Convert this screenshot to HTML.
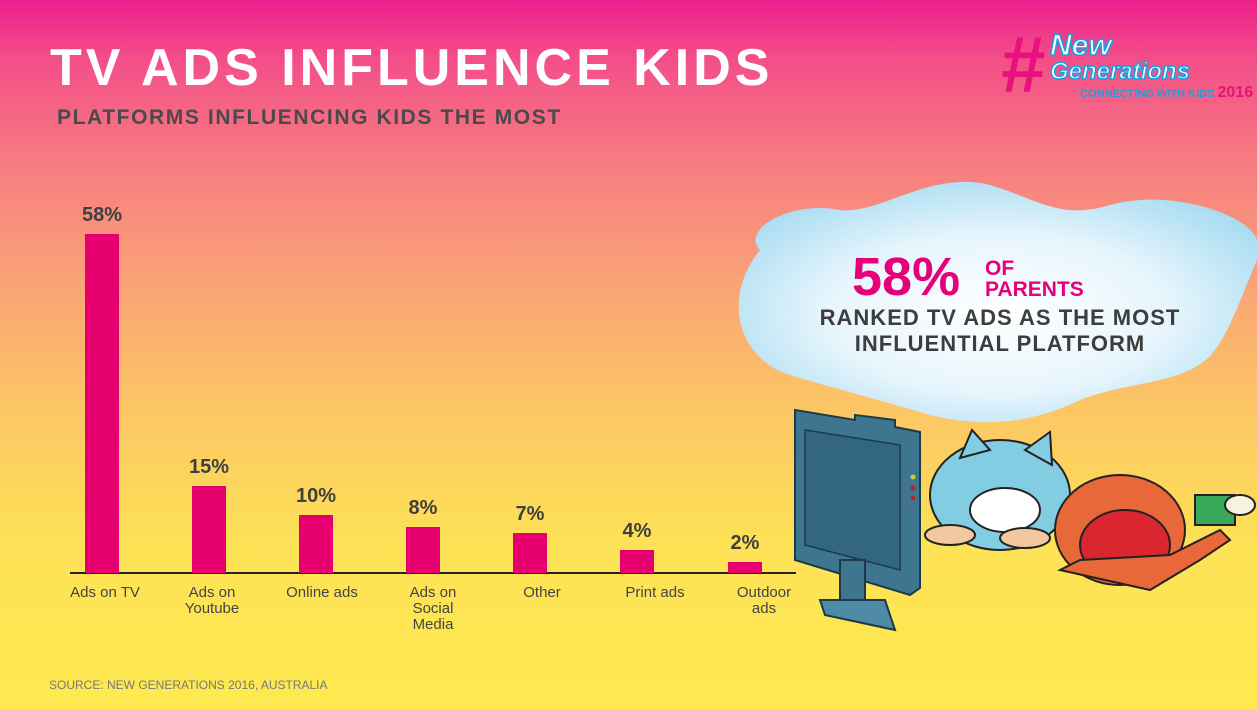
<!DOCTYPE html>
<html><head><meta charset="utf-8"><style>
*{margin:0;padding:0}
body{width:1257px;height:709px;overflow:hidden;position:relative;font-family:"Liberation Sans",sans-serif;
background:linear-gradient(180deg,#ee1f8c 0px,#f34f88 60px,#f77f80 170px,#faa277 280px,#fcc466 400px,#fde156 540px,#feea50 709px);}
.t{position:absolute;white-space:nowrap}
.bar{position:absolute;width:34px;background:#e6006f}
.v{position:absolute;width:80px;text-align:center;font-weight:bold;font-size:20px;color:#3f3f3f}
.l{position:absolute;width:100px;text-align:center;font-size:15px;color:#444;line-height:16px}
</style></head><body>
<div class="t" style="left:50px;top:38px;font-size:52px;font-weight:bold;color:#fff;letter-spacing:4px">TV ADS INFLUENCE KIDS</div>
<div class="t" style="left:57px;top:106px;font-size:21px;font-weight:bold;color:#4a4a4a;letter-spacing:1.6px">PLATFORMS INFLUENCING KIDS THE MOST</div>
<div class="t" style="left:1000px;top:25px;width:235px;height:85px">
<div class="t" style="left:0;top:0;font-size:80px;font-weight:bold;color:#e8117f;line-height:80px;font-style:italic">#</div>
<div class="t" style="left:50px;top:6px;font-size:30px;font-weight:bold;font-style:italic;color:#fff;-webkit-text-stroke:1.5px #1a9fe0;line-height:30px">New</div>
<div class="t" style="left:50px;top:34px;font-size:24px;font-weight:bold;font-style:italic;color:#fff;-webkit-text-stroke:1.5px #1a9fe0;line-height:26px">Generations</div>
<div class="t" style="left:80px;top:62px;font-size:11px;font-weight:bold;color:#1a9fe0;line-height:11px">CONNECTING WITH KIDS <span style="color:#e8117f;font-size:16px">2016</span></div>
</div>
<div style="position:absolute;left:70px;top:572px;width:726px;height:2px;background:#222"></div>
<div class="bar" style="left:85px;top:234px;height:339px"></div>
<div class="bar" style="left:192px;top:486px;height:87px"></div>
<div class="bar" style="left:299px;top:515px;height:58px"></div>
<div class="bar" style="left:406px;top:527px;height:46px"></div>
<div class="bar" style="left:513px;top:533px;height:40px"></div>
<div class="bar" style="left:620px;top:550px;height:23px"></div>
<div class="bar" style="left:728px;top:562px;height:11px"></div>
<div class="v" style="left:62px;top:204px">58%</div>
<div class="v" style="left:169px;top:456px">15%</div>
<div class="v" style="left:276px;top:485px">10%</div>
<div class="v" style="left:383px;top:497px">8%</div>
<div class="v" style="left:490px;top:503px">7%</div>
<div class="v" style="left:597px;top:520px">4%</div>
<div class="v" style="left:705px;top:532px">2%</div>
<div class="l" style="left:55px;top:585px">Ads on TV</div>
<div class="l" style="left:162px;top:585px">Ads on<br>Youtube</div>
<div class="l" style="left:272px;top:585px">Online ads</div>
<div class="l" style="left:383px;top:585px">Ads on<br>Social<br>Media</div>
<div class="l" style="left:492px;top:585px">Other</div>
<div class="l" style="left:605px;top:585px">Print ads</div>
<div class="l" style="left:714px;top:585px">Outdoor<br>ads</div>
<div class="t" style="left:49px;top:678px;font-size:12px;color:#777">SOURCE: NEW GENERATIONS 2016, AUSTRALIA</div>
<svg style="position:absolute;left:0;top:0" width="1257" height="709">
<defs><radialGradient id="c" cx="0.5" cy="0.55" r="0.6"><stop offset="0" stop-color="#fff"/><stop offset="0.55" stop-color="#e6f5fc"/><stop offset="1" stop-color="#a8dcf2"/></radialGradient></defs>
<path d="M760 250 C740 230 790 200 840 210 C880 215 930 170 990 185 C1040 200 1060 220 1110 205 C1170 188 1250 215 1257 240 L1257 260 C1240 300 1230 330 1215 350 C1190 385 1130 380 1080 400 C1040 420 990 430 930 415 C880 400 840 390 790 375 C740 360 720 300 760 250 Z" fill="url(#c)"/>
<g transform="translate(795,410)">
<polygon points="0,0 60,10 60,5 100,10 100,17 125,22 125,178 115,185 0,150" fill="#3e7690" stroke="#1c3a4a" stroke-width="2"/>
<polygon points="10,20 105,35 105,160 10,135" fill="#336780" stroke="#1c3a4a" stroke-width="1.5"/>
<rect x="45" y="150" width="25" height="50" fill="#3e7690" stroke="#1c3a4a" stroke-width="2"/>
<polygon points="25,190 90,190 100,220 30,205" fill="#4f8aa6" stroke="#1c3a4a" stroke-width="2"/>
<circle cx="118" cy="67" r="2.5" fill="#cc3"/><circle cx="118" cy="78" r="2.5" fill="#b22"/><circle cx="118" cy="88" r="2.5" fill="#b22"/>
</g>
<g stroke="#222" stroke-width="2">
<ellipse cx="1000" cy="495" rx="70" ry="55" fill="#83cde2"/>
<path d="M960 458 L972 430 L990 450 Z M1025 450 L1050 432 L1052 465 Z" fill="#83cde2"/>
<ellipse cx="1005" cy="510" rx="35" ry="22" fill="#fff"/>
<ellipse cx="950" cy="535" rx="25" ry="10" fill="#f2c8a0"/>
<ellipse cx="1025" cy="538" rx="25" ry="10" fill="#f2c8a0"/>
<ellipse cx="1120" cy="530" rx="65" ry="55" fill="#e8683a"/>
<ellipse cx="1125" cy="545" rx="45" ry="35" fill="#d9262f"/>
<path d="M1060 570 L1150 590 L1200 560 L1230 540 L1220 530 L1170 555 L1080 560 Z" fill="#e8683a"/>
<rect x="1195" y="495" width="40" height="30" fill="#3aa859"/>
<ellipse cx="1240" cy="505" rx="15" ry="10" fill="#f4f4e0"/>
</g>
</svg>
<div class="t" style="left:852px;top:250px;font-size:54px;font-weight:bold;color:#e6007a;line-height:54px">58%</div>
<div class="t" style="left:985px;top:258px;font-size:21px;font-weight:bold;color:#e6007a;line-height:21px">OF<br>PARENTS</div>
<div class="t" style="left:790px;top:305px;width:420px;text-align:center;font-size:22px;font-weight:bold;color:#3d3d3d;line-height:26px;letter-spacing:1px">RANKED TV ADS AS THE MOST<br>INFLUENTIAL PLATFORM</div>
</body></html>
